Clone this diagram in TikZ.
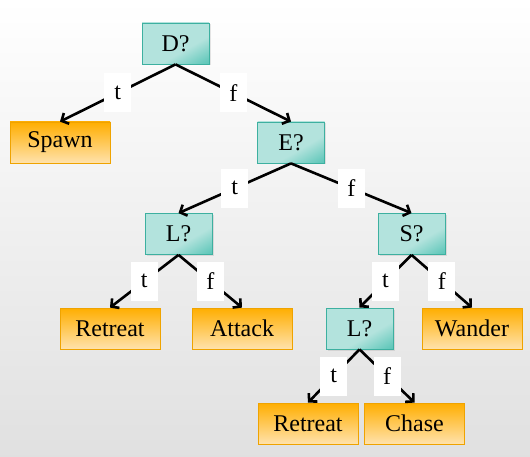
\documentclass[tikz,border=0pt]{standalone}
\usepackage{fontspec}
\setmainfont{Liberation Serif}
\newfontfamily\tnr{Liberation Serif}
\usetikzlibrary{arrows.meta,shadows}
\definecolor{tealL}{HTML}{B3E3DD}
\definecolor{tealD}{HTML}{2AB5A3}
\definecolor{tealB}{HTML}{3DB0A0}
\definecolor{orT}{HTML}{FFAE00}
\definecolor{orB}{HTML}{FFE2AC}
\definecolor{orBd}{HTML}{EFA300}
\pgfdeclarehorizontalshading{tealdiag}{100bp}{color(0bp)=(tealL); color(60bp)=(tealL); color(80bp)=(tealD!55!tealL); color(100bp)=(tealD)}
\tikzset{
  x=1pt,y=1pt,
  every node/.style={font=\tnr\fontsize{24}{28}\selectfont, text=black},
  dec/.style={draw=tealB, line width=0.8pt, fill=tealL, minimum width=67pt, minimum height=41pt, inner sep=0pt,
    drop shadow={opacity=0.2, shadow xshift=1.5pt, shadow yshift=-1.5pt},
    path picture={\shade[shading=tealdiag, shading angle=-60] (path picture bounding box.south west) rectangle (path picture bounding box.north east);}},
  act/.style={draw=orBd, line width=0.8pt, top color=orT, bottom color=orB, minimum width=100pt, minimum height=41pt, inner sep=0pt},
  edge/.style={line width=2.6pt, -{Straight Barb[length=5.5pt,width=12pt]}},
  lab/.style={fill=white, minimum width=27pt, minimum height=39pt, inner sep=0pt, midway}
}
\begin{document}
\begin{tikzpicture}
\shade[top color=white, middle color=white, bottom color=black!12] (0,0) rectangle (530,456);
\useasboundingbox (0,0) rectangle (530,456);
\node[dec] (D) at (175.5,412.5) {D?};
\node[act] (Sp) at (60,313.5) {Spawn};
\node[dec] (E) at (291,313.5) {E?};
\node[dec] (La) at (178.5,222) {L?};
\node[dec] (S) at (411.5,222) {S?};
\node[act] (R1) at (110,127.5) {Retreat};
\node[act] (At) at (242,127.5) {Attack};
\node[dec] (Lb) at (359.5,127.5) {L?};
\node[act] (W) at (472,127.5) {Wander};
\node[act] (R2) at (308,32.5) {Retreat};
\node[act] (Ch) at (414.5,32.5) {Chase};
\draw[edge] (D.south) -- node[lab] (l1) {t} (Sp.north);
\draw[edge] (D.south) -- node[lab] (l2) {f} (E.north);
\draw[edge] (E.south) -- node[lab] (l3) {t} (La.north);
\draw[edge] (E.south) -- node[lab] (l4) {f} (S.north);
\draw[edge] (La.south) -- node[lab] (l5) {t} (R1.north);
\draw[edge] (La.south) -- node[lab] (l6) {f} (At.north);
\draw[edge] (S.south) -- node[lab] (l7) {t} (Lb.north);
\draw[edge] (S.south) -- node[lab] (l8) {f} (W.north);
\draw[edge] (Lb.south) -- node[lab] (l9) {t} (R2.north);
\draw[edge] (Lb.south) -- node[lab] (l10) {f} (Ch.north);
\end{tikzpicture}
\end{document}
